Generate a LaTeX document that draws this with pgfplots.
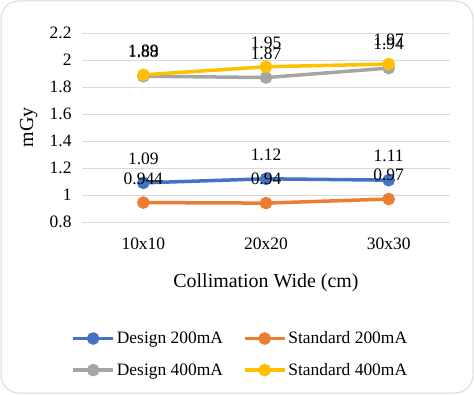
\documentclass[border=0pt]{standalone}
\usepackage{fontspec}
\setmainfont{Liberation Serif}
\usepackage{pgfplots}
\pgfplotsset{compat=1.18}
\definecolor{c1}{HTML}{4472C4}
\definecolor{c2}{HTML}{ED7D31}
\definecolor{c3}{HTML}{A5A5A5}
\definecolor{c4}{HTML}{FFC000}
\definecolor{gridc}{HTML}{D9D9D9}
\begin{document}
\begin{tikzpicture}[x=1bp,y=1bp]
\useasboundingbox (0,0) rectangle (474,394);
\draw[draw=gridc, line width=1bp, rounded corners=18bp] (1,1) rectangle (473,393);
\begin{axis}[
  at={(82bp,172bp)}, anchor=south west,
  scale only axis, width=368bp, height=189bp,
  xmin=-0.5, xmax=2.5, ymin=0.8, ymax=2.2,
  xtick={0,1,2}, xticklabels={10x10,20x20,30x30},
  ytick={0.8,1.0,1.2,1.4,1.6,1.8,2.0,2.2},
  ymajorgrids, grid style={draw=gridc, line width=1bp},
  axis line style={draw=none}, tick style={draw=none},
  font=\fontsize{17.5}{21}\selectfont,
  /pgf/number format/assume math mode=true,
  yticklabel style={xshift=-7bp},
  xticklabel style={yshift=-12bp},
  ylabel={mGy}, xlabel={Collimation Wide (cm)},
  ylabel style={at={(axis description cs:-0.145,0.5)}, anchor=center, font=\fontsize{20}{24}\selectfont},
  xlabel style={at={(axis description cs:0.5,-0.32)}, anchor=center, font=\fontsize{20}{24}\selectfont},
  legend columns=2,
  legend cell align=left,
  legend style={draw=none, fill=none, at={(axis description cs:0.43,-0.7)}, anchor=center,
    font=\fontsize{17.5}{21}\selectfont,
    /tikz/every even column/.append style={column sep=18bp},
    row sep=14bp},
  legend image code/.code={\draw[mark repeat=2,mark phase=2] plot coordinates {(0bp,0bp)(20bp,0bp)(40bp,0bp)};},
  every axis plot/.append style={line width=3.5bp, mark=*, mark size=4.5bp},
  nodes near coords, point meta=explicit symbolic,
  every node near coord/.append style={anchor=center, yshift=24bp, font=\fontsize{17.5}{21}\selectfont, text=black},
]
\addplot[c1, mark options={fill=c1, draw=c1}] coordinates {(0,1.09)[1.09] (1,1.12)[1.12] (2,1.11)[1.11]};
\addlegendentry{Design 200mA}
\addplot[c2, mark options={fill=c2, draw=c2}] coordinates {(0,0.944)[0.944] (1,0.94)[0.94] (2,0.97)[0.97]};
\addlegendentry{Standard 200mA}
\addplot[c3, mark options={fill=c3, draw=c3}] coordinates {(0,1.88)[1.88] (1,1.87)[1.87] (2,1.94)[1.94]};
\addlegendentry{Design 400mA}
\addplot[c4, mark options={fill=c4, draw=c4}] coordinates {(0,1.89)[1.89] (1,1.95)[1.95] (2,1.97)[1.97]};
\addlegendentry{Standard 400mA}
\end{axis}
\end{tikzpicture}
\end{document}
